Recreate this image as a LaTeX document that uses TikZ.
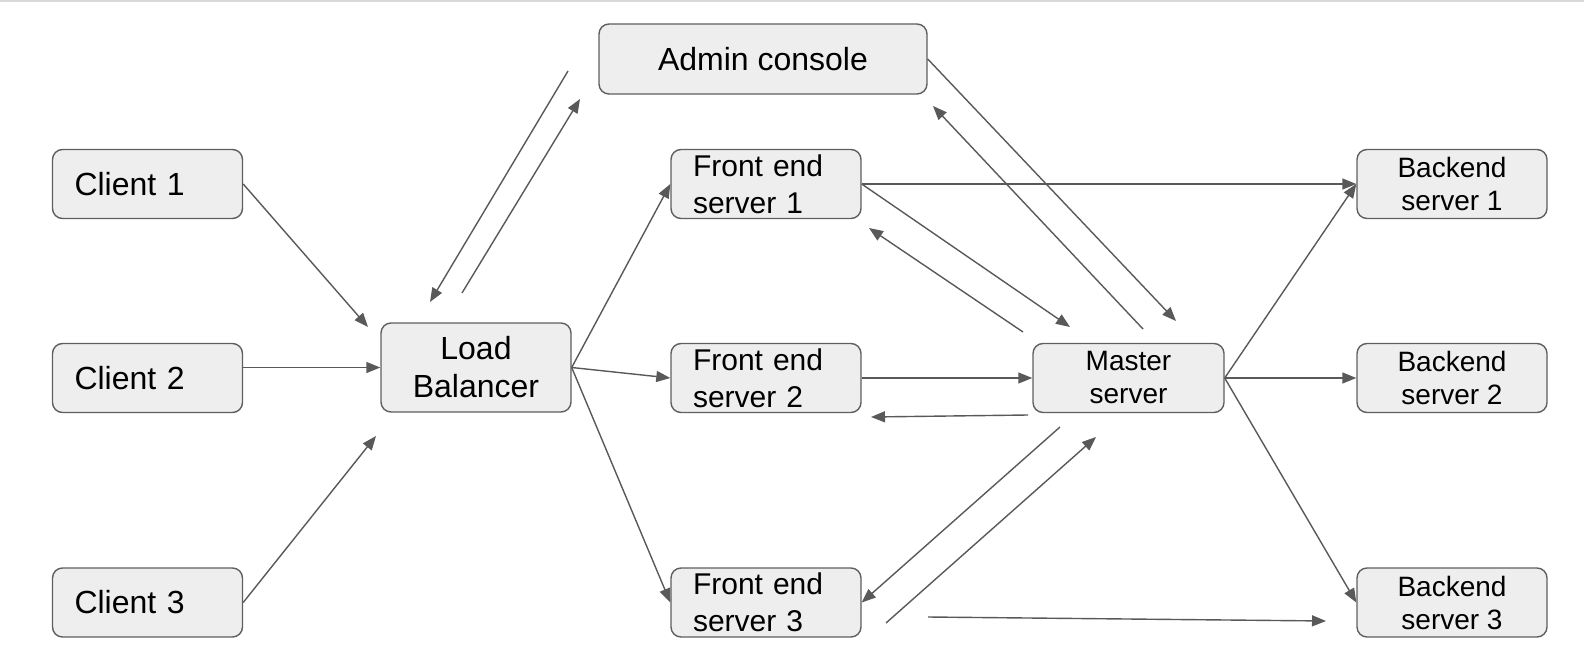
\documentclass[tikz,border=0pt]{standalone}
\usepackage{fontspec}
\setmainfont{Liberation Sans}
\usetikzlibrary{arrows.meta}
\definecolor{boxc}{HTML}{5F5F5F}
\definecolor{fillc}{HTML}{EEEEEE}
\definecolor{arrc}{HTML}{595959}
\begin{document}
\begin{tikzpicture}[x=1pt,y=-1pt,
  box/.style={draw=boxc, fill=fillc, rounded corners=10pt, line width=1.4pt,
    minimum height=69pt, inner ysep=0pt, text=black},
  bigf/.style={font=\fontsize{32}{38}\selectfont},
  midf/.style={font=\fontsize{30}{37}\selectfont},
  smallf/.style={font=\fontsize{28}{33}\selectfont},
  lefttxt/.style={align=left, inner xsep=22pt, text width=146pt},
  ctrtxt/.style={align=center, inner xsep=0pt},
  conn/.style={draw=arrc, line width=1.4pt, -{Triangle[length=14pt,width=11pt]}, fill=none},
  topline/.style={draw=gray!30, line width=2pt}]
\useasboundingbox (0,0) rectangle (1584,671);
\draw[topline] (0,1) -- (1584,1);

% nodes
\node[box, bigf, ctrtxt, minimum width=328pt, minimum height=70pt] (admin) at (763,59) {Admin console};
\node[box, bigf, lefttxt] (c1) at (147.5,184) {Client 1};
\node[box, bigf, lefttxt] (c2) at (147.5,378) {Client 2};
\node[box, bigf, lefttxt] (c3) at (147.5,602.5) {Client 3};
\node[box, bigf, ctrtxt, minimum width=190pt, minimum height=89pt] (lb) at (476,367.5) {Load\\Balancer};
\node[box, midf, lefttxt] (fe1) at (766,184) {Front end\\server 1};
\node[box, midf, lefttxt] (fe2) at (766,378) {Front end\\server 2};
\node[box, midf, lefttxt] (fe3) at (766,602.5) {Front end\\server 3};
\node[box, smallf, ctrtxt, minimum width=191pt] (ms) at (1128.5,378) {Master\\server};
\node[box, smallf, ctrtxt, minimum width=190pt] (b1) at (1452,184) {Backend\\server 1};
\node[box, smallf, ctrtxt, minimum width=190pt] (b2) at (1452,378) {Backend\\server 2};
\node[box, smallf, ctrtxt, minimum width=190pt] (b3) at (1452,602.5) {Backend\\server 3};

% free connector ends
\coordinate (p1) at (368,327);
\coordinate (p3) at (376,436);
\coordinate (lbA1) at (462,293);
\coordinate (lbA2) at (580,99);
\coordinate (adL1) at (568,71);
\coordinate (adL2) at (430,302);
\coordinate (fmEnd) at (1070,327);
\coordinate (mfAs) at (1023,332);
\coordinate (mfAe) at (869,228);
\coordinate (amEnd) at (1176,321);
\coordinate (maS) at (1143,329);
\coordinate (maE) at (933,106);
\coordinate (mfBs) at (1028,415);
\coordinate (mfBe) at (871,417);
\coordinate (mfCs) at (1060,427);
\coordinate (fCms) at (886,623);
\coordinate (fCme) at (1096,437);
\coordinate (fCbs) at (928,617);
\coordinate (fCbe) at (1326,621);

% connectors
\draw[conn] (c1.east) -- (p1);
\draw[conn] (c2.east |- lb.west) -- (lb.west);
\draw[conn] (c3.east) -- (p3);
\draw[conn] (lbA1) -- (lbA2);
\draw[conn] (adL1) -- (adL2);
\draw[conn] (lb.east) -- (fe1.west);
\draw[conn] (lb.east) -- (fe2.west);
\draw[conn] (lb.east) -- (fe3.west);
\draw[conn] (fe1.east) -- (b1.west);
\draw[conn] (fe1.east) -- (fmEnd);
\draw[conn] (mfAs) -- (mfAe);
\draw[conn] (admin.east) -- (amEnd);
\draw[conn] (maS) -- (maE);
\draw[conn] (fe2.east) -- (ms.west);
\draw[conn] (mfBs) -- (mfBe);
\draw[conn] (mfCs) -- (fe3.east);
\draw[conn] (fCms) -- (fCme);
\draw[conn] (fCbs) -- (fCbe);
\draw[conn] (ms.east) -- (b1.west);
\draw[conn] (ms.east) -- (b2.west);
\draw[conn] (ms.east) -- (b3.west);
\end{tikzpicture}
\end{document}
